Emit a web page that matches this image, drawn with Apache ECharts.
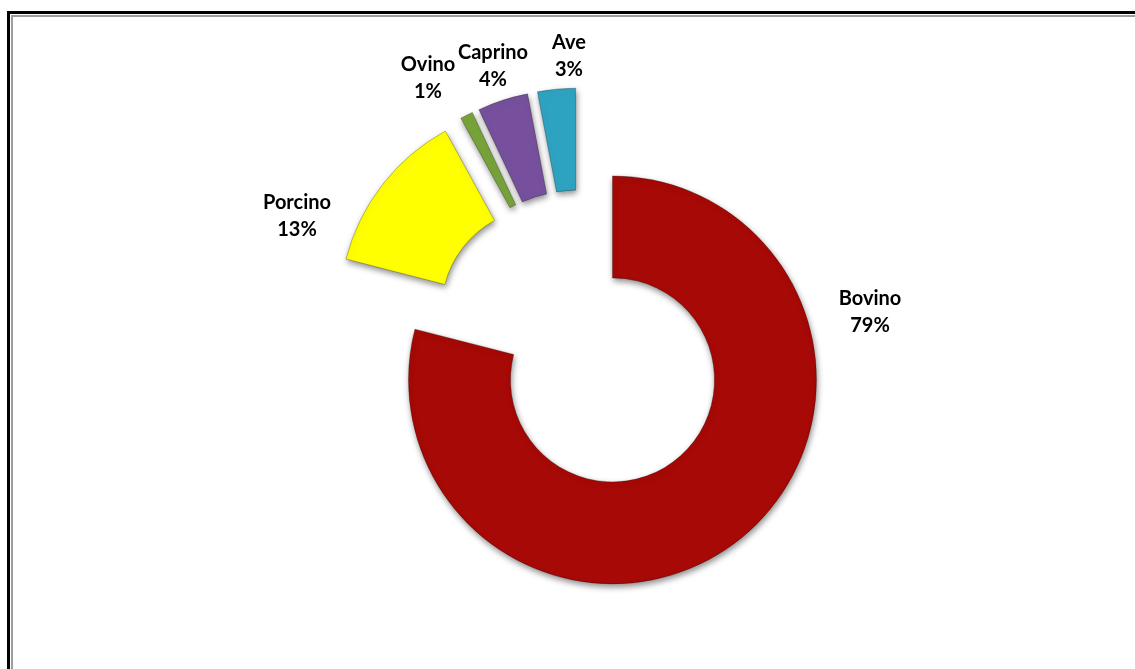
<!DOCTYPE html>
<html>
<head>
<meta charset="utf-8">
<script src="https://cdn.jsdelivr.net/npm/echarts@6/dist/echarts.min.js"></script>
<style>
    html, body { margin: 0; padding: 0; width: 1135px; height: 669px; overflow: hidden; background: #fff; }
    /* chart-area frame, cut off at the right and bottom like the original */
    #frame { position: absolute; left: 7px; top: 11px; width: 1200px; height: 720px; border-left: 3px solid #000; border-top: 3px solid #000; }
    #frame-in { position: absolute; left: 1px; top: 1px; right: 0; bottom: 0; border-left: 2px solid #9c9c9c; border-top: 2px solid #9c9c9c; }
    #chart { position: absolute; left: 0; top: 0; width: 1135px; height: 669px; }
</style>
</head>
<body>
<div id="frame"><div id="frame-in"></div></div>
<div id="chart"></div>
<script>
    // datos
    const categories = ['Bovino', 'Porcino', 'Ovino', 'Caprino', 'Ave'];
    const shares = [79, 13, 1, 4, 3];
    const colors = ['#A60906', '#FFFF00', '#77A33A', '#76509C', '#2EA3C1'];

    // layout
    const baseCenter = [580, 338];
    const explode = [53, 46, 46, 46, 46];
    const radius = [102, 204];
    const labelAt = [[870, 312], [297, 216], [428, 78], [493, 66], [569, 56]];

    const chart = echarts.init(document.getElementById('chart'));

    const total = shares.reduce((a, b) => a + b, 0);
    let acc = 0;

    // one pie per slice so every slice can be pulled out by its own amount
    const series = categories.map((name, i) => {
        const mid = (acc + shares[i] / 2) / total * 2 * Math.PI;
        acc += shares[i];
        const cx = baseCenter[0] + explode[i] * Math.sin(mid);
        const cy = baseCenter[1] - explode[i] * Math.cos(mid);
        return {
            type: 'pie',
            center: [cx, cy],
            radius: radius,
            startAngle: 90,
            clockwise: true,
            silent: true,
            animation: false,
            avoidLabelOverlap: false,
            percentPrecision: 0,
            labelLine: { show: false },
            label: {
                position: 'outside',
                formatter: '{b}\n{d}%',
                fontFamily: 'Lato',
                fontWeight: 'bold',
                fontSize: 20,
                lineHeight: 27,
                color: '#000',
                align: 'center'
            },
            labelLayout: (p) => p.dataIndex === i
                ? { x: labelAt[i][0], y: labelAt[i][1], align: 'center', verticalAlign: 'middle' }
                : {},
            data: categories.map((n, j) => ({
                name: n,
                value: shares[j],
                label: { show: j === i },
                itemStyle: j === i ? {
                    color: colors[j],
                    borderColor: 'rgba(0,0,0,0.25)',
                    borderWidth: 1,
                    shadowBlur: 6,
                    shadowColor: 'rgba(0,0,0,0.45)',
                    shadowOffsetX: 1,
                    shadowOffsetY: 3
                } : { color: 'transparent', borderWidth: 0 }
            }))
        };
    });

    chart.setOption({
        backgroundColor: 'transparent',
        animation: false,
        series: series
    });
</script>
</body>
</html>
